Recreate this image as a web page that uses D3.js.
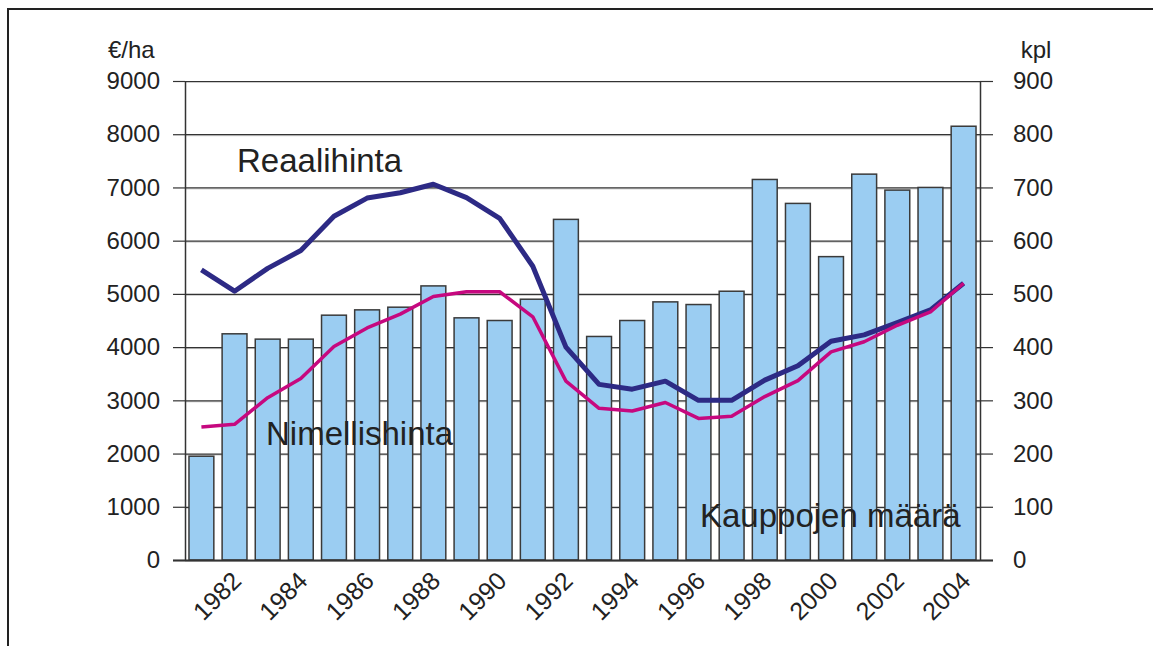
<!DOCTYPE html>
<html>
<head>
<meta charset="utf-8">
<script src="https://cdn.jsdelivr.net/npm/d3@7"></script>
<style>
	body { margin: 0; background: #fff; }
	svg { font-family: "Liberation Sans", Arial, sans-serif; }
	.tick text { fill: #222; }
</style>
</head>
<body>
<svg id="chart" width="1153" height="646"></svg>
<script>
// data
var years = [1981, 1982, 1983, 1984, 1985, 1986, 1987, 1988, 1989, 1990, 1991, 1992,
	1993, 1994, 1995, 1996, 1997, 1998, 1999, 2000, 2001, 2002, 2003, 2004];
// kauppojen maara (kpl), right axis
var kaupat = [195, 425, 415, 415, 460, 470, 475, 515, 455, 450, 490, 640,
	420, 450, 485, 480, 505, 715, 670, 570, 725, 695, 700, 815];
// reaalihinta (euro/ha), left axis
var reaali = [5450, 5050, 5480, 5815, 6460, 6800, 6900, 7060, 6810, 6420, 5520, 4000,
	3300, 3210, 3360, 3000, 3000, 3380, 3650, 4110, 4230, 4460, 4700, 5200];
// nimellishinta (euro/ha), left axis
var nimelli = [2500, 2550, 3050, 3410, 4010, 4360, 4620, 4950, 5040, 5040, 4570, 3360,
	2850, 2800, 2960, 2660, 2700, 3070, 3370, 3910, 4100, 4410, 4660, 5200];
var leftTicks = [0, 1000, 2000, 3000, 4000, 5000, 6000, 7000, 8000, 9000];
var rightTicks = [0, 100, 200, 300, 400, 500, 600, 700, 800, 900];
var xLabelYears = [1982, 1984, 1986, 1988, 1990, 1992, 1994, 1996, 1998, 2000, 2002, 2004];

var svg = d3.select("#chart");

var pLeft = 185, pRight = 980, pTop = 81, pBottom = 560;

var x = d3.scaleBand()
	.domain(years)
	.range([pLeft, pRight])
	.paddingInner(0.25)
	.paddingOuter(0.12);

var yL = d3.scaleLinear().domain([0, 9000]).range([pBottom, pTop]);
var yR = d3.scaleLinear().domain([0, 900]).range([pBottom, pTop]);

// outer frame
svg.append("path")
	.attr("d", "M8,646 L8,9 L1153,9")
	.attr("fill", "none")
	.attr("stroke", "#222")
	.attr("stroke-width", 2);

// gridlines (behind bars), with a faint shadow
var grid = svg.append("g");
grid.selectAll("line.shadow")
	.data(leftTicks)
	.enter()
	.append("line")
		.attr("class", "shadow")
		.attr("x1", pLeft).attr("x2", pRight)
		.attr("y1", d => yL(d) + 1.5).attr("y2", d => yL(d) + 1.5)
		.attr("stroke", "#ccc")
		.attr("stroke-width", 1);
grid.selectAll("line.grid")
	.data(leftTicks)
	.enter()
	.append("line")
		.attr("class", "grid")
		.attr("x1", pLeft).attr("x2", pRight)
		.attr("y1", d => yL(d) + 0.5).attr("y2", d => yL(d) + 0.5)
		.attr("stroke", "#333")
		.attr("stroke-width", 1.2);

// bars
svg.append("g").selectAll("rect")
	.data(years)
	.enter()
	.append("rect")
		.attr("x", d => x(d))
		.attr("y", (d, i) => yR(kaupat[i]))
		.attr("width", x.bandwidth())
		.attr("height", (d, i) => pBottom - yR(kaupat[i]))
		.attr("fill", "#9BCDF2")
		.attr("stroke", "#3a3a3a")
		.attr("stroke-width", 1.5);

// axes
var axL = svg.append("g")
	.attr("transform", "translate(" + pLeft + ",0)")
	.call(d3.axisLeft(yL).tickValues(leftTicks).tickSize(12).tickPadding(13).tickFormat(d3.format("d")));
var axR = svg.append("g")
	.attr("transform", "translate(" + pRight + ",0)")
	.call(d3.axisRight(yR).tickValues(rightTicks).tickSize(13).tickPadding(20).tickFormat(d3.format("d")));

[axL, axR].forEach(function(ax) {
	ax.attr("font-size", 24).attr("font-family", "Liberation Sans, Arial, sans-serif");
	ax.select(".domain").attr("stroke", "#333").attr("stroke-width", 1.5)
		.attr("d", "M0.5," + pTop + "V" + pBottom);
	ax.selectAll(".tick line").attr("stroke", "#333").attr("stroke-width", 1.2);
});

// bottom line
svg.append("line")
	.attr("x1", pLeft - 12).attr("x2", pRight + 13)
	.attr("y1", pBottom + 0.5).attr("y2", pBottom + 0.5)
	.attr("stroke", "#333")
	.attr("stroke-width", 2);

// x labels
svg.append("g").selectAll("text")
	.data(xLabelYears)
	.enter()
	.append("text")
		.text(d => d)
		.attr("font-size", 25)
		.attr("fill", "#222")
		.attr("text-anchor", "end")
		.attr("transform", d => "translate(" + (x(d) + x.bandwidth() / 2 - 4) + "," + (pBottom + 10) + ") rotate(-45)")
		.attr("dy", "0.7em");

// lines
var cx = d => x(d) + x.bandwidth() / 2;

var priceLine = d3.line()
	.x((d, i) => cx(years[i]))
	.y(d => yL(d));

svg.append("path")
	.datum(reaali)
	.attr("d", priceLine)
	.attr("fill", "none")
	.attr("stroke", "#2D2A85")
	.attr("stroke-width", 5)
	.attr("stroke-linejoin", "round");

svg.append("path")
	.datum(nimelli)
	.attr("d", priceLine)
	.attr("fill", "none")
	.attr("stroke", "#C6087F")
	.attr("stroke-width", 3.5)
	.attr("stroke-linejoin", "round");

// texts
function label(t, px, py, size, anchor) {
	svg.append("text")
		.text(t)
		.attr("x", px).attr("y", py)
		.attr("font-size", size)
		.attr("fill", "#222")
		.attr("text-anchor", anchor || "start");
}
label("€/ha", 108, 58, 24);
label("kpl", 1036, 58, 24, "middle");
label("Reaalihinta", 237, 172, 33);
label("Nimellishinta", 266, 445, 33);
label("Kauppojen määrä", 700, 527, 33);
</script>
</body>
</html>
